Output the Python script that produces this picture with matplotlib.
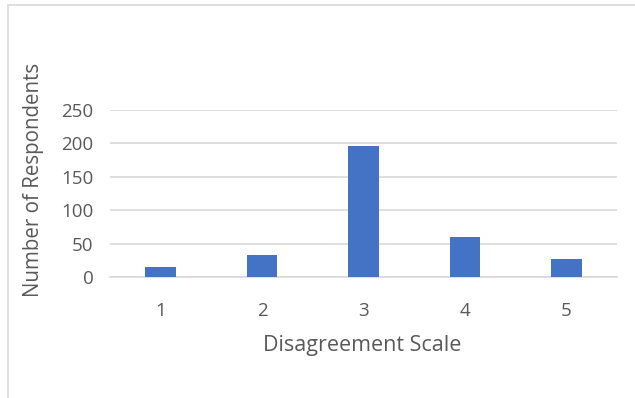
import matplotlib
matplotlib.use("Agg")
import matplotlib.pyplot as plt
from matplotlib.patches import Rectangle

categories = ["1", "2", "3", "4", "5"]
respondents = [15, 33, 195, 60, 27]
yticks = [0, 50, 100, 150, 200, 250]

plt.rcParams['font.family'] = ['Open Sans', 'DejaVu Sans']
text_color = "#595959"

fig = plt.figure(figsize=(6.35, 3.98), dpi=100)
ax = fig.add_axes([0.1732, 0.304, 0.7985, 0.4204])

x = list(range(len(categories)))
ax.bar(x, respondents, width=0.3, color="#4472C4", zorder=3)
ax.set_xlim(-0.5, len(categories) - 0.5)
ax.set_ylim(0, 250)
ax.set_yticks(yticks)
ax.set_xticks(x)
ax.set_xticklabels(categories)
ax.yaxis.grid(True, color="#D9D9D9", linewidth=1.2, zorder=0)
for s in ["top", "right", "left"]:
    ax.spines[s].set_visible(False)
ax.spines["bottom"].set_color("#D9D9D9")
ax.spines["bottom"].set_linewidth(1.2)
ax.tick_params(axis="both", length=0, labelsize=13.5, labelcolor=text_color)
ax.tick_params(axis="y", pad=12)
ax.tick_params(axis="x", pad=18)

fig.text(0.5701, 1 - 346 / 398, "Disagreement Scale", ha="center", va="center",
         fontsize=15.5, color=text_color)
fig.text(34 / 635, 1 - 180 / 398, "Number of Respondents", ha="center", va="center",
         rotation=90, fontsize=14.8, color=text_color)

fig.patches.append(Rectangle((8 / 635, -0.05), 1.1, 1 - 5 / 398 + 0.05,
                             transform=fig.transFigure, fill=False,
                             edgecolor="#D9D9D9", linewidth=1.2))

fig.savefig("out.png", dpi=100)
